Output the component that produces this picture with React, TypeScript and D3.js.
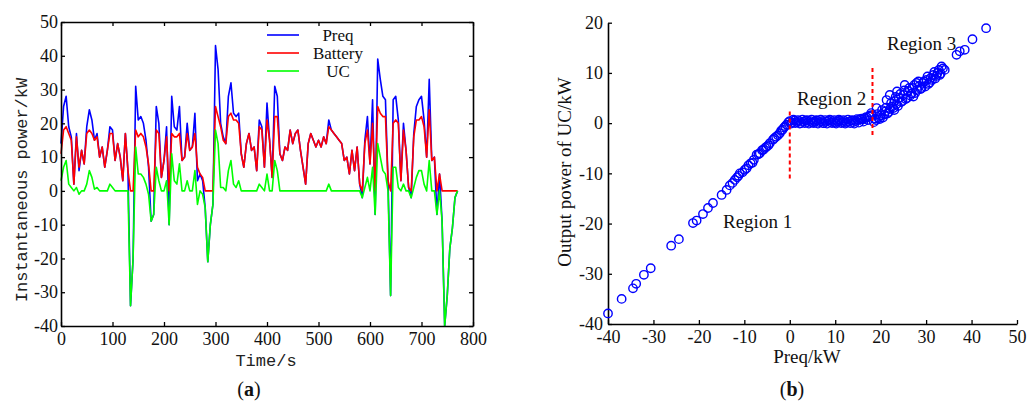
import React, { useEffect, useRef } from "react";
import * as d3 from "d3";

// (a) power split over the drive cycle, sampled every 5 s
const timeS = d3.range(0, 775, 5);
const preq = [
  14, 25, 28, 19, 16, 2, 17, 6, 12, 8,
  19, 24, 21, 15, 17, 10, 13, 7, 12, 19,
  18, 9, 14, 10, 3, 17, 6, -34, -20, 31,
  21, 22, 20, 15, 7, -9, -7, 25, 20, 4,
  9, 19, -10, 28, 19, 18, 25, 9, 10, 20,
  12, 13, 23, 3, 5, 3, -5, -21, -10, -4,
  43, 36, 20, 16, 14, 28, 32, 23, 22, 23,
  11, 7, 14, 17, 12, 13, 6, 21, 19, 7,
  26, 15, 4, 31, 28, 11, 9, 13, 12, 18,
  14, 17, 18, 12, 7, 2, 14, 17, 15, 13,
  15, 13, 16, 14, 21, 18, 17, 16, 15, 14,
  9, 10, 5, 12, 6, 13, 2, -2, 15, 22,
  8, 27, -7, 39, 33, 28, 27, 3, -31, 27,
  28, 21, 3, 20, 12, 1, -2, 17, 25, 27,
  28, 21, 10, 33, 9, 10, -7, 5, -9, -40,
  -31, -17, -11, -2, 0,
];
const battery = [
  11, 18, 19, 17, 15, 2, 16, 7, 12, 8,
  17, 18, 17, 15, 16, 10, 13, 7, 12, 17,
  17, 9, 14, 10, 3, 17, 6, 0, 0, 18,
  16, 17, 16, 13, 8, 0, 0, 18, 17, 4,
  9, 16, 0, 17, 16, 16, 17, 9, 10, 17,
  12, 13, 17, 7, 5, 4, 0, 0, 0, 0,
  25, 22, 19, 15, 14, 22, 23, 21, 21, 20,
  11, 7, 14, 17, 12, 13, 6, 19, 18, 7,
  21, 15, 4, 22, 22, 11, 9, 13, 12, 18,
  14, 17, 18, 12, 7, 2, 14, 17, 15, 13,
  15, 13, 16, 14, 19, 18, 17, 16, 15, 14,
  9, 10, 5, 12, 6, 13, 2, 0, 14, 18,
  8, 20, 0, 25, 23, 22, 22, 3, 0, 20,
  21, 20, 3, 18, 12, 1, 0, 16, 21, 21,
  22, 19, 10, 24, 9, 10, 0, 5, 0, 0,
  0, 0, 0, 0, 0,
];
const uc = [
  3, 7, 9, 2, 1, 0, 1, -1, 0, 0,
  2, 6, 4, 0.5, 1, 0, 0, 0, 0, 2,
  1, 0, 0, 0, 0, 0, 0, -34, -20, 13,
  5, 5, 4, 2, -1, -9, -7, 7, 3, 0,
  0, 3, -10, 11, 3, 2, 8, 0, 0, 3,
  0, 0, 6, -4, 0, -1, -5, -21, -10, -4,
  18, 14, 1, 1, 0, 6, 9, 2, 1, 3,
  0, 0, 0, 0, 0, 0, 0, 2, 1, 0,
  5, 0, 0, 9, 6, 0, 0, 0, 0, 0,
  0, 0, 0, 0, 0, 0, 0, 0, 0, 0,
  0, 0, 0, 0, 2, 0, 0, 0, 0, 0,
  0, 0, 0, 0, 0, 0, 0, -2, 1, 4,
  0, 7, -7, 14, 10, 6, 5, 0, -31, 7,
  7, 1, 0, 2, 0, 0, -2, 1, 4, 6,
  6, 2, 0, 9, 0, 0, -7, 0, -9, -40,
  -31, -17, -11, -2, 0,
];

// (b) UC output against demand
const scatterPreq = [
  -40.0, -37.0, -34.5, -33.8, -32.1, -30.6, -26.1, -24.4, -21.3, -20.5,
  -19.1, -18.0, -16.9, -15.0, -13.9, -12.6, -12.1, -11.6, -11.0, -10.4,
  -9.9, -9.5, -8.6, -8.2, -7.9, -7.3, -6.6, -6.1, -5.8, -5.1,
  -4.7, -4.4, -3.7, -3.0, -2.6, -2.2, -1.9, -1.6, -1.0, -0.7, -0.3,
  -13.2, -11.3, -9.1, -6.9, -5.4, -3.4, -1.3,
  0, 0.5, 1, 1.5, 2, 2.5, 3, 3.5, 4, 4.5, 5, 5.5, 6, 6.5, 7, 7.5, 8, 8.5,
  9, 9.5, 10, 10.5, 11, 11.5, 12, 12.5, 13, 13.5, 14, 14.5, 15, 15.5, 16,
  16.5, 17, 17.5, 18,
  0.3, 1.2, 2.2, 3.3, 4.2, 5.3, 6.2, 7.3, 8.2, 9.3, 10.2, 11.3, 12.2,
  13.3, 14.2, 15.2, 16.2, 17.2, 17.9,
  0.8, 1.8, 2.8, 3.8, 4.8, 5.8, 6.8, 7.8, 8.8, 9.8, 10.8, 11.8, 12.8,
  13.8, 14.8, 15.8, 16.8, 17.6,
  18.5, 19.0, 19.1, 19.5, 20.0, 20.5, 21.0, 21.3, 21.5, 22.0, 22.0, 22.5,
  23.0, 23.0, 23.6, 23.5, 24.0, 24.5, 25.0, 25.3, 25.5, 26.0, 26.5, 27.0,
  27.2, 27.9, 28.0, 28.5, 29.0, 29.5, 30.1, 30.5, 31.0, 31.6, 32.0, 32.5,
  33.0, 33.4, 34.1, 36.7, 37.4, 38.5, 40.2, 43.2,
  18.8, 19.3, 19.8, 20.3, 20.8, 21.2, 21.8, 22.3, 22.8, 23.3, 23.8, 24.3,
  24.8, 25.2, 25.8, 26.3, 26.8, 27.4, 27.6, 28.3, 28.8, 29.3, 29.8, 30.3,
  30.8, 31.3, 31.8, 32.3, 32.8, 33.2, 33.7,
];
const scatterUC = [
  -37.9, -35.0, -32.9, -32.0, -30.2, -28.9, -24.4, -23.1, -19.9, -19.4,
  -18.1, -16.9, -15.9, -14.3, -13.3, -11.9, -11.3, -10.8, -10.0, -9.8,
  -9.3, -9.0, -8.0, -7.9, -7.3, -6.3, -6.0, -5.4, -5.3, -4.7,
  -4.4, -4.0, -3.3, -2.7, -2.4, -2.0, -1.5, -1.3, -0.6, -0.3, 0.2,
  -12.4, -10.5, -8.4, -6.2, -4.9, -3.0, -0.9,
  0.4, 0.1, 0.5, 0.2, 0.4, 0.0, 0.3, 0.5, 0.2, 0.4, 0.1, 0.3, 0.5, 0.2,
  0.4, 0.0, 0.3, 0.5, 0.2, 0.4, 0.1, 0.3, 0.5, 0.2, 0.4, 0.1, 0.3, 0.5,
  0.2, 0.4, 0.6, 0.8, 0.7, 1.0, 1.1, 1.3, 1.6,
  -0.1, 0.0, -0.1, 0.0, -0.1, 0.0, -0.1, 0.0, -0.1, 0.0, -0.1, 0.0, -0.1,
  0.0, -0.1, 0.1, 0.3, 0.6, 2.0,
  0.7, 0.6, 0.7, 0.6, 0.7, 0.6, 0.7, 0.6, 0.7, 0.6, 0.7, 0.6, 0.7,
  0.6, 0.8, 0.9, 1.2, 1.5,
  0.2, 0.6, 3.0, 1.0, 1.5, 1.1, 2.3, 4.6, 1.9, 5.6, 2.8, 3.3,
  2.6, 4.4, 6.3, 3.8, 5.0, 4.2, 5.6, 7.6, 4.8, 6.4, 5.5, 7.0,
  5.3, 8.0, 6.6, 7.4, 7.0, 8.3, 8.6, 7.8, 9.0, 9.6, 8.9, 10.0,
  9.6, 11.3, 10.6, 13.6, 14.3, 14.6, 16.7, 18.9,
  0.9, 1.8, 0.8, 2.6, 1.7, 3.1, 2.2, 4.0, 3.0, 5.2, 3.4, 5.8,
  4.4, 6.5, 5.0, 7.0, 5.9, 7.6, 6.0, 8.3, 6.8, 8.0, 7.3, 9.3,
  8.1, 8.6, 10.2, 9.4, 10.6, 9.9, 10.9,
];

const xTicksA = [0, 100, 200, 300, 400, 500, 600, 700, 800];
const yTicksA = [-40, -30, -20, -10, 0, 10, 20, 30, 40, 50];
const xTicksB = [-40, -30, -20, -10, 0, 10, 20, 30, 40, 50];
const yTicksB = [-40, -30, -20, -10, 0, 10, 20];

const seriesA = [
  { name: "Preq", values: preq, color: "#0000ff" },
  { name: "Battery", values: battery, color: "#ff0000" },
  { name: "UC", values: uc, color: "#00ff00" },
];

const serif = "'Liberation Serif', 'Times New Roman', serif";
const mono = "'Liberation Mono', 'Courier New', monospace";

function styleAxis(g: any, showText = true) {
  g.attr("font-family", serif).attr("font-size", showText ? 18 : 0);
  g.select(".domain").attr("stroke", "#000").attr("stroke-width", 1.6);
  g.selectAll(".tick line").attr("stroke", "#000").attr("stroke-width", 1.3);
  g.selectAll(".tick text").attr("fill", "#111");
}

export default function App() {
  const ref = useRef<SVGSVGElement>(null);

  useEffect(() => {
    const svg = d3.select(ref.current);
    svg.selectAll("*").remove();

    // ---------- panel (a)
    const xA = d3.scaleLinear().domain([0, 800]).range([61, 473]);
    const yA = d3.scaleLinear().domain([-40, 50]).range([326, 22]);
    const a = svg.append("g");

    const line = d3
      .line<number>()
      .x((d, i) => xA(timeS[i]))
      .y((d) => yA(d));

    seriesA.forEach((s) => {
      a.append("path")
        .datum(s.values)
        .attr("d", line)
        .attr("fill", "none")
        .attr("stroke", s.color)
        .attr("stroke-width", 1.6)
        .attr("stroke-linejoin", "round");
    });

    const lab = (d: any) => String(d);
    a.append("g")
      .attr("transform", "translate(0,326)")
      .call(d3.axisBottom(xA).tickValues(xTicksA).tickSize(-4).tickSizeOuter(0).tickPadding(6).tickFormat(lab))
      .call((g) => styleAxis(g));
    a.append("g")
      .attr("transform", "translate(0,22)")
      .call(d3.axisTop(xA).tickValues(xTicksA).tickSize(-4).tickSizeOuter(0).tickFormat(() => ""))
      .call((g) => styleAxis(g, false));
    a.append("g")
      .attr("transform", "translate(61,0)")
      .call(d3.axisLeft(yA).tickValues(yTicksA).tickSize(-4).tickSizeOuter(0).tickPadding(3).tickFormat(lab))
      .call((g) => styleAxis(g));
    a.append("g")
      .attr("transform", "translate(473,0)")
      .call(d3.axisRight(yA).tickValues(yTicksA).tickSize(-4).tickSizeOuter(0).tickFormat(() => ""))
      .call((g) => styleAxis(g, false));

    // legend
    seriesA.forEach((s, i) => {
      const ly = 35 + i * 18;
      a.append("line")
        .attr("x1", 267).attr("x2", 299).attr("y1", ly).attr("y2", ly)
        .attr("stroke", s.color).attr("stroke-width", 1.6);
      a.append("text")
        .attr("x", 338).attr("y", ly + 6)
        .attr("text-anchor", "middle")
        .style("font-family", serif).style("font-size", "17px")
        .attr("fill", "#111")
        .text(s.name);
    });

    a.append("text")
      .attr("transform", "translate(27,190) rotate(-90)")
      .attr("text-anchor", "middle")
      .style("font-family", mono).style("font-size", "17px")
      .attr("fill", "#222")
      .text("Instantaneous power/kW");
    a.append("text")
      .attr("x", 266).attr("y", 366)
      .attr("text-anchor", "middle")
      .style("font-family", mono).style("font-size", "17px")
      .attr("fill", "#222")
      .text("Time/s");

    const capA = a.append("text")
      .attr("x", 249).attr("y", 396)
      .attr("text-anchor", "middle")
      .style("font-family", serif).style("font-size", "20px")
      .attr("fill", "#111");
    capA.append("tspan").text("(");
    capA.append("tspan").attr("font-weight", "bold").text("a");
    capA.append("tspan").text(")");

    // ---------- panel (b)
    const xB = d3.scaleLinear().domain([-40, 50]).range([608, 1017]);
    const yB = d3.scaleLinear().domain([-40, 20]).range([324, 22.7]);
    const b = svg.append("g");

    b.append("g")
      .attr("transform", "translate(0,324)")
      .call(d3.axisBottom(xB).tickValues(xTicksB).tickSize(-4).tickSizeOuter(0).tickPadding(6).tickFormat(lab))
      .call((g) => styleAxis(g));
    b.append("g")
      .attr("transform", "translate(608,0)")
      .call(d3.axisLeft(yB).tickValues(yTicksB).tickSize(-4).tickSizeOuter(0).tickPadding(5).tickFormat(lab))
      .call((g) => styleAxis(g));

    b.selectAll("circle.pt")
      .data(scatterPreq)
      .join("circle")
      .attr("class", "pt")
      .attr("cx", (d) => xB(d))
      .attr("cy", (d, i) => yB(scatterUC[i]))
      .attr("r", 4.2)
      .attr("fill", "none")
      .attr("stroke", "#0000ff")
      .attr("stroke-width", 1.4);

    // region boundaries
    const bounds = [
      { x: 0, y1: 2.3, y2: -11.3 },
      { x: 18.2, y1: 11, y2: -2.7 },
    ];
    bounds.forEach((d) => {
      b.append("line")
        .attr("x1", xB(d.x)).attr("x2", xB(d.x))
        .attr("y1", yB(d.y1)).attr("y2", yB(d.y2))
        .attr("stroke", "#ff0000").attr("stroke-width", 2)
        .attr("stroke-dasharray", "4,3");
    });

    const regions = [
      { t: "Region 1", x: 723, y: 228 },
      { t: "Region 2", x: 797, y: 105 },
      { t: "Region 3", x: 887, y: 50 },
    ];
    regions.forEach((r) => {
      b.append("text")
        .attr("x", r.x).attr("y", r.y)
        .style("font-family", serif).style("font-size", "19px")
        .attr("fill", "#111")
        .text(r.t);
    });

    b.append("text")
      .attr("transform", "translate(571,172) rotate(-90)")
      .attr("text-anchor", "middle")
      .style("font-family", serif).style("font-size", "19px")
      .attr("fill", "#111")
      .text("Output power of UC/kW");
    b.append("text")
      .attr("x", 807).attr("y", 363)
      .attr("text-anchor", "middle")
      .style("font-family", serif).style("font-size", "19px")
      .attr("fill", "#111")
      .text("Preq/kW");

    const capB = b.append("text")
      .attr("x", 792).attr("y", 396)
      .attr("text-anchor", "middle")
      .style("font-family", serif).style("font-size", "20px")
      .attr("fill", "#111");
    capB.append("tspan").text("(");
    capB.append("tspan").attr("font-weight", "bold").text("b");
    capB.append("tspan").text(")");
  }, []);

  return (
    <svg
      ref={ref}
      width={1029}
      height={403}
      style={{ position: "absolute", left: 0, top: 0, background: "#fff" }}
    />
  );
}
